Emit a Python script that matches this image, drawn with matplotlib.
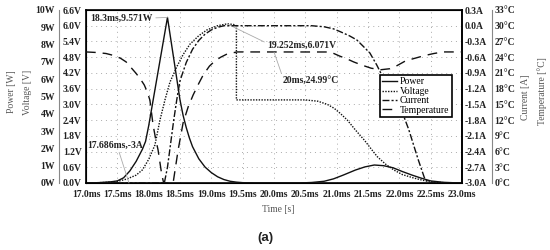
import numpy as np
import matplotlib
matplotlib.use("Agg")
import matplotlib.pyplot as plt

plt.rcParams['font.family'] = ['Liberation Serif', 'DejaVu Serif']

# ---- data ----
t_power = [17.0, 17.2, 17.4, 17.5, 17.6, 17.7, 17.8, 17.9, 17.95, 18.0, 18.3,
           18.5, 18.55, 18.6, 18.65, 18.7, 18.8, 18.9, 19.0, 19.1, 19.2, 19.3,
           19.4, 19.5, 19.7, 20.4, 20.6, 20.8, 20.95, 21.1, 21.3, 21.45, 21.6,
           21.75, 21.9, 22.05, 22.2, 22.35, 22.5, 22.7, 22.9, 23.0]
power = [0.0, 0.02, 0.07, 0.12, 0.3, 0.7, 1.25, 1.95, 2.4, 3.3, 9.571,
         4.8, 3.9, 3.2, 2.6, 2.1, 1.4, 0.92, 0.6, 0.36, 0.2, 0.1,
         0.05, 0.02, 0.0, 0.0, 0.03, 0.1, 0.24, 0.45, 0.75, 0.93, 1.04,
         1.0, 0.88, 0.66, 0.46, 0.28, 0.12, 0.04, 0.01, 0.0]

t_volt = [17.0, 17.3, 17.5, 17.65, 17.8, 17.9, 18.0, 18.1, 18.18, 18.26, 18.34,
          18.45, 18.55, 18.66, 18.8, 18.93, 19.1, 19.252, 19.35, 19.4, 19.4,
          20.5, 20.7, 20.85, 20.96, 21.06, 21.17, 21.3, 21.44, 21.55, 21.65,
          21.78, 21.91, 22.05, 22.23, 22.4, 22.55, 22.8, 23.0]
volt = [0.0, 0.02, 0.06, 0.15, 0.3, 0.5, 0.9, 1.45, 2.4, 3.17, 3.85,
        4.44, 4.9, 5.3, 5.62, 5.84, 6.0, 6.071, 6.05, 6.0, 3.17,
        3.17, 3.12, 3.0, 2.85, 2.65, 2.4, 2.02, 1.64, 1.3, 1.0,
        0.72, 0.5, 0.32, 0.19, 0.09, 0.04, 0.0, 0.0]

t_curr = [17.0, 18.25, 18.3, 18.35, 18.4, 18.45, 18.5, 18.6, 18.7, 18.8, 18.9,
          19.0, 19.1, 19.2, 20.6, 20.8, 20.95, 21.05, 21.2, 21.32, 21.43, 21.53,
          21.64, 21.72, 21.85, 22.0, 22.15, 22.3, 22.4, 22.47, 23.0]
curr = [-3.0, -3.0, -2.7, -2.25, -1.8, -1.4, -1.05, -0.7, -0.45, -0.28, -0.16,
        -0.08, -0.03, 0.0, 0.0, -0.02, -0.06, -0.11, -0.19, -0.27, -0.4, -0.52,
        -0.75, -0.94, -1.2, -1.5, -1.98, -2.55, -2.9, -3.0, -3.0]

t_temp = [17.0, 17.16, 17.32, 17.45, 17.55, 17.64, 17.72, 17.8, 17.87, 17.93,
          17.98, 18.02, 18.07, 18.11, 18.15, 18.21, 18.24, 18.39, 18.47, 18.55,
          18.63, 18.71, 18.8, 18.87, 18.97, 19.06, 19.15, 19.25, 19.41, 20.9,
          21.05, 21.16, 21.27, 21.4, 21.55, 21.7, 21.85, 21.95, 22.1, 22.25,
          22.4, 22.55, 22.7, 23.0]
temp = [25.0, 24.9, 24.7, 24.3, 23.8, 23.1, 22.0, 20.9, 19.8, 18.7,
        17.3, 15.8, 11.1, 8.5, 6.3, 1.5, 0.0, 0.0, 6.3, 11.5,
        14.5, 16.8, 19.0, 20.6, 22.3, 23.3, 24.0, 24.6, 25.0, 24.99,
        24.2, 23.7, 23.1, 22.5, 21.9, 21.6, 21.8, 22.3, 23.3, 23.8,
        24.3, 24.7, 25.0, 25.0]

x_ticks = np.arange(17.0, 23.01, 0.5)
v_ticks = np.arange(0, 6.61, 0.6)
p_ticks = np.arange(0, 10.1, 1)
i_ticks = np.arange(-3.0, 0.31, 0.3)
c_ticks = np.arange(0, 33.1, 3)

tick_kw = dict(fontsize=6.9, fontweight='bold', color='#222')
lab_kw = dict(fontsize=6.9, color='#555')
ann_kw = dict(fontsize=6.9, fontweight='bold', color='#222')
arr = dict(arrowstyle='-', color='#aaaaaa', lw=0.6, shrinkA=0, shrinkB=0)

fig = plt.figure(figsize=(5.5, 2.5), dpi=100)
ax = fig.add_axes([86/550, 67/250, 376/550, 173/250])
axP = ax.twinx()
axI = ax.twinx()
axT = ax.twinx()

# voltage (main left axis)
ax.set_xlim(17, 23)
ax.set_ylim(0, 6.6)
ax.set_xticks(x_ticks)
ax.set_xticklabels([f"{v:.1f}ms" for v in x_ticks], **tick_kw)
ax.set_yticks(v_ticks)
ax.set_yticklabels([f"{v:.1f}V" for v in v_ticks], **tick_kw)
ax.tick_params(axis='both', length=0)
ax.tick_params(axis='x', pad=5)
ax.tick_params(axis='y', pad=3)
ax.grid(True, color='#aaaaaa', linestyle=(0, (1, 4)), lw=0.7)
for s in ax.spines.values():
    s.set_linewidth(1.2)

# power (offset left axis)
axP.set_ylim(0, 10)
axP.yaxis.set_ticks_position('left')
axP.spines['left'].set_position(('outward', 19.5))
axP.spines['left'].set_visible(True)
axP.spines['left'].set_color('#888888')
axP.spines['right'].set_visible(False)
axP.spines['top'].set_visible(False)
axP.spines['bottom'].set_visible(False)
axP.set_yticks(p_ticks)
axP.set_yticklabels([f"{int(v)}W" for v in p_ticks], **tick_kw)
axP.tick_params(axis='y', length=0, pad=3)

# current (right axis)
axI.set_ylim(-3.0, 0.3)
axI.set_yticks(i_ticks)
axI.set_yticklabels([f"{v:.1f}A".replace("-0.0", "0.0") for v in i_ticks], **tick_kw)
axI.tick_params(axis='y', length=0, pad=2)
axI.spines['right'].set_linewidth(1.2)

# temperature (offset right axis)
axT.set_ylim(0, 33)
axT.spines['right'].set_position(('outward', 21.5))
axT.spines['right'].set_color('#888888')
axT.spines['top'].set_visible(False)
axT.spines['bottom'].set_visible(False)
axT.spines['left'].set_visible(False)
axT.set_yticks(c_ticks)
axT.set_yticklabels([f"{int(v)}°C" for v in c_ticks], **tick_kw)
axT.tick_params(axis='y', length=0, pad=2)

lp, = axP.plot(t_power, power, color='#111111', lw=1.0, label='Power')
lv, = ax.plot(t_volt, volt, color='#111111', lw=1.0, linestyle=(0, (1, 1)), label='Voltage')
li, = axI.plot(t_curr, curr, color='#111111', lw=1.0, linestyle=(0, (5, 1.5, 1.5, 1.5)), label='Current')
lt, = axT.plot(t_temp, temp, color='#111111', lw=1.0, linestyle=(0, (7, 5)), label='Temperature')

# annotations
axP.annotate('18.3ms,9.571W', xy=(18.3, 9.571), xytext=(18.07, 9.54),
             ha='right', va='center', arrowprops=dict(arr, relpos=(1, 0.5)), **ann_kw)
ax.annotate('19.252ms,6.071V', xy=(19.252, 6.071), xytext=(19.89, 5.26),
            ha='left', va='center', arrowprops=dict(arr, relpos=(0, 0.7)), **ann_kw)
axT.annotate('20ms,24.99°C', xy=(20.0, 24.99), xytext=(20.13, 19.65),
             ha='left', va='center', arrowprops=dict(arr, relpos=(0, 1)), **ann_kw)
axI.annotate('17.686ms,-3A', xy=(17.686, -3.0), xytext=(17.47, -2.275),
             ha='center', va='center', arrowprops=dict(arr, relpos=(0.55, 0)), **ann_kw)

leg = axT.legend(handles=[lp, lv, li, lt], loc='upper left',
                 bbox_to_anchor=((380 - 86) / 376, (183 - 75) / 173),
                 fontsize=7, frameon=True, fancybox=False, framealpha=1,
                 edgecolor='black', handlelength=1.5, handletextpad=0.3,
                 borderpad=0.25, labelspacing=0.05, borderaxespad=0)
leg.get_frame().set_linewidth(1.2)

# axis titles
fig.text(12/550, 1 - 92/250, 'Power [W]', rotation=90, ha='center', va='center', **lab_kw)
fig.text(27/550, 1 - 92/250, 'Voltage [V]', rotation=90, ha='center', va='center', **lab_kw)
fig.text(525/550, 1 - 97/250, 'Current [A]', rotation=90, ha='center', va='center', **lab_kw)
fig.text(542/550, 1 - 91/250, 'Temperature [°C]', rotation=90, ha='center', va='center', **lab_kw)
fig.text(278/550, 1 - 210/250, 'Time [s]', ha='center', va='center', **lab_kw)
fig.text(265/550, 1 - 238/250, '(a)', ha='center', va='center', fontsize=9.5,
         fontweight='bold', family=['Liberation Sans', 'DejaVu Sans'], color='#222')

fig.savefig('out.png', dpi=100)
